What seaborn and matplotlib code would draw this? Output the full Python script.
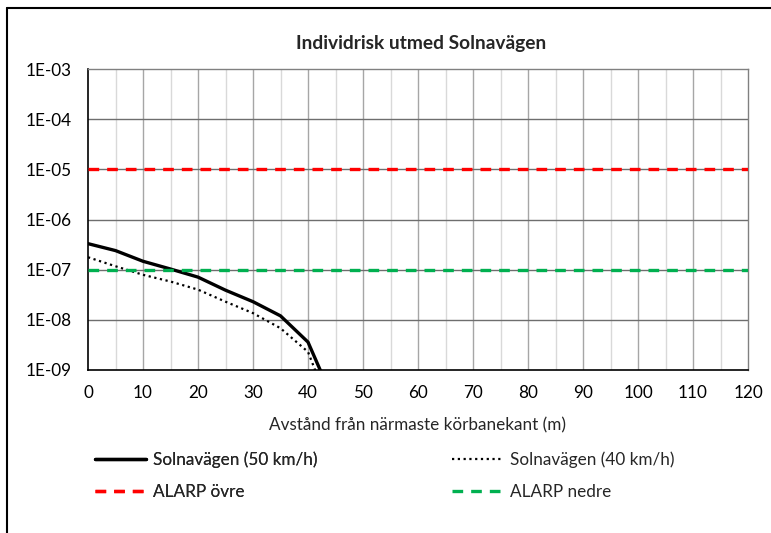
import numpy as np
import pandas as pd
import matplotlib
matplotlib.use("Agg")
import matplotlib.pyplot as plt
from matplotlib.lines import Line2D
from matplotlib.ticker import FixedLocator
import seaborn as sns

# ---- data ----
distance = [0, 5, 10, 15, 20, 25, 30, 35, 40, 45]
risk_50 = [3.3e-7, 2.4e-7, 1.47e-7, 1.03e-7, 7.1e-8, 3.9e-8, 2.3e-8, 1.2e-8, 3.6e-9, 2.0e-10]
risk_40 = [1.77e-7, 1.17e-7, 7.9e-8, 5.8e-8, 4.0e-8, 2.3e-8, 1.36e-8, 6.8e-9, 2.3e-9, 9e-11]
alarp_upper = 1e-5
alarp_lower = 1e-7
x_ticks = [0, 10, 20, 30, 40, 50, 60, 70, 80, 90, 100, 110, 120]
y_ticks = [1e-9, 1e-8, 1e-7, 1e-6, 1e-5, 1e-4, 1e-3]
y_labels = ["1E-09", "1E-08", "1E-07", "1E-06", "1E-05", "1E-04", "1E-03"]
title = "Individrisk utmed Solnavägen"
xlabel = "Avstånd från närmaste körbanekant (m)"
labels = ["Solnavägen (50 km/h)", "Solnavägen (40 km/h)", "ALARP övre", "ALARP nedre"]

sns.set_theme(style="white")
plt.rcParams["font.family"] = ["Lato", "DejaVu Sans"]

FS = 12.3
W, H = 771, 533
fig = plt.figure(figsize=(W / 100, H / 100), dpi=100)
ax = fig.add_axes([88 / W, 1 - 370 / H, (748 - 88) / W, (370 - 69) / H])

df = pd.DataFrame({"x": distance, "r50": risk_50, "r40": risk_40})
ax.set_yscale("log")
ax.set_xlim(0, 120)
ax.set_ylim(1e-9, 1e-3)

# grid
for xv in range(5, 120, 5):
    ax.axvline(xv, color="#a6a6a6" if xv % 10 == 0 else "#d9d9d9", lw=1.0, zorder=0)
for yv in y_ticks[1:-1]:
    ax.axhline(yv, color="#6e6e6e", lw=1.0, zorder=0.5)

sns.lineplot(data=df, x="x", y="r50", ax=ax, color="black", lw=2.4, zorder=3)
sns.lineplot(data=df, x="x", y="r40", ax=ax, color="black", lw=1.6,
             linestyle=(0, (1, 1.6)), zorder=3)
ax.axhline(alarp_upper, color="#ff0000", lw=2.4, dashes=(3.2, 2.4), zorder=4)
ax.axhline(alarp_lower, color="#00b050", lw=2.4, dashes=(3.2, 2.4), zorder=4)

ax.xaxis.set_major_locator(FixedLocator(x_ticks))
ax.yaxis.set_major_locator(FixedLocator(y_ticks))
ax.yaxis.set_minor_locator(FixedLocator([]))
ax.set_yticklabels(y_labels)
ax.tick_params(axis="both", labelsize=FS, length=0, colors="black")
ax.tick_params(axis="y", pad=12)
ax.tick_params(axis="x", pad=10.5)
ax.set_xlabel("")
ax.set_ylabel("")

for s in ["left", "bottom"]:
    ax.spines[s].set_color("black")
    ax.spines[s].set_linewidth(1.2)
for s in ["top", "right"]:
    ax.spines[s].set_color("#808080")
    ax.spines[s].set_linewidth(1.0)

fig.text(421 / W, 1 - 43 / H, title, ha="center", va="center", fontsize=13.8, fontweight="bold")
fig.text(418 / W, 1 - 425 / H, xlabel, ha="center", va="center", fontsize=FS)

# legends (two columns)
h50 = Line2D([], [], color="black", lw=2.4)
h40 = Line2D([], [], color="black", lw=1.6, linestyle=(0, (1, 1.6)))
hup = Line2D([], [], color="#ff0000", lw=2.4, dashes=(3.2, 2.4))
hlo = Line2D([], [], color="#00b050", lw=2.4, dashes=(3.2, 2.4))
common = dict(frameon=False, fontsize=FS, handlelength=3.0, handletextpad=0.4,
              labelspacing=0.95, borderpad=0, borderaxespad=0, loc="upper left")
leg1 = fig.legend([h50, hup], [labels[0], labels[2]], bbox_to_anchor=(95 / W, 1 - 451 / H), **common)
fig.add_artist(leg1)
fig.legend([h40, hlo], [labels[1], labels[3]], bbox_to_anchor=(452 / W, 1 - 451 / H), **common)

# outer chart border (cropped at right and bottom)
fig.add_artist(Line2D([7 / W, 1], [1 - 8 / H, 1 - 8 / H], transform=fig.transFigure, color="black", lw=1.5))
fig.add_artist(Line2D([7 / W, 7 / W], [0, 1 - 8 / H], transform=fig.transFigure, color="black", lw=1.5))

fig.savefig("out.png", dpi=100)
